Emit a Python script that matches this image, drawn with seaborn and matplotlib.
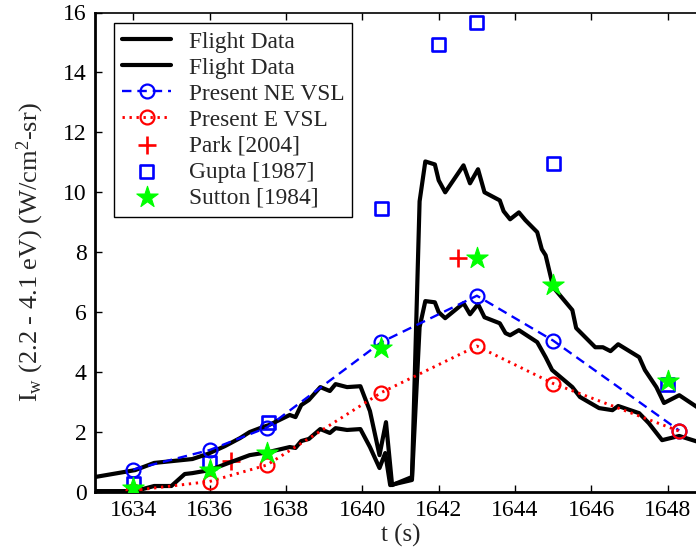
import matplotlib as mpl
mpl.use("Agg")
import matplotlib.pyplot as plt
import numpy as np
import seaborn as sns

# flight data, upper trace
t_fd1 = [1633.0, 1634.05, 1634.55, 1635.55, 1635.95, 1636.4, 1636.8, 1637.05, 1637.4,
         1637.55, 1638.1, 1638.25, 1638.4, 1638.6, 1638.9, 1639.15, 1639.3, 1639.6,
         1639.95, 1640.2, 1640.45, 1640.62, 1640.78, 1641.3, 1641.5, 1641.65, 1641.9,
         1642.0, 1642.17, 1642.65, 1642.82, 1643.03, 1643.2, 1643.6, 1643.7, 1643.87,
         1644.1, 1644.27, 1644.58, 1644.7, 1644.8, 1645.0, 1645.5, 1645.6, 1646.1,
         1646.3, 1646.5, 1646.7, 1647.25, 1647.4, 1647.7, 1647.9, 1648.3, 1648.77, 1649.0]
I_fd1 = [0.5, 0.73, 0.97, 1.1, 1.27, 1.53, 1.8, 2.0, 2.17,
         2.23, 2.57, 2.5, 2.9, 3.07, 3.5, 3.37, 3.6, 3.5,
         3.53, 2.7, 1.23, 2.33, 0.23, 0.5, 9.7, 11.03, 10.93,
         10.4, 10.0, 10.9, 10.3, 10.77, 10.0, 9.73, 9.37, 9.1,
         9.33, 9.07, 8.67, 8.1, 7.9, 6.83, 6.07, 5.47, 4.83,
         4.83, 4.7, 4.93, 4.5, 4.07, 3.5, 2.97, 3.23, 2.83, 2.7]

# flight data, lower trace
t_fd2 = [1633.0, 1634.05, 1634.55, 1635.0, 1635.35, 1635.55, 1636.0, 1636.5, 1637.05,
         1637.5, 1638.1, 1638.25, 1638.4, 1638.6, 1638.9, 1639.15, 1639.3, 1639.6,
         1639.95, 1640.2, 1640.45, 1640.6, 1640.73, 1641.3, 1641.5, 1641.65, 1641.9,
         1642.0, 1642.17, 1642.65, 1642.82, 1643.03, 1643.2, 1643.6, 1643.75, 1643.87,
         1644.1, 1644.58, 1644.8, 1644.97, 1645.5, 1645.7, 1646.2, 1646.55, 1646.7,
         1647.25, 1647.5, 1647.85, 1648.3, 1648.8, 1649.0]
I_fd2 = [0.03, 0.03, 0.2, 0.2, 0.6, 0.63, 0.73, 0.97, 1.23,
         1.32, 1.5, 1.47, 1.7, 1.77, 2.1, 1.97, 2.13, 2.07,
         2.1, 1.5, 0.8, 1.3, 0.23, 0.4, 5.5, 6.37, 6.33,
         6.0, 5.8, 6.3, 5.93, 6.27, 5.83, 5.63, 5.3, 5.23,
         5.4, 5.0, 4.5, 4.07, 3.5, 3.17, 2.8, 2.73, 2.87,
         2.63, 2.3, 1.73, 1.87, 1.67, 1.6]

# computations
t_vsl = [1634.0, 1636.0, 1637.5, 1640.5, 1643.0, 1645.0, 1648.3]
I_ne_vsl = [0.75, 1.4, 2.15, 5.0, 6.55, 5.05, 2.05]
I_e_vsl = [0.05, 0.35, 0.9, 3.32, 4.87, 3.62, 2.03]

t_park = [1636.55, 1642.5]
I_park = [1.02, 7.8]

t_gupta = [1634.0, 1636.0, 1637.55, 1640.5, 1642.0, 1643.0, 1645.0, 1648.0]
I_gupta = [0.28, 0.98, 2.32, 9.45, 14.92, 15.66, 10.95, 3.6]

t_sutton = [1634.0, 1636.0, 1637.5, 1640.5, 1643.0, 1645.0, 1648.0]
I_sutton = [0.15, 0.72, 1.3, 4.8, 7.8, 6.9, 3.72]

sns.set_theme(style="white")
plt.rcParams['font.family'] = ['Liberation Serif', 'DejaVu Serif']
plt.rcParams['mathtext.fontset'] = 'custom'
plt.rcParams['mathtext.rm'] = 'Liberation Serif'
plt.rcParams['mathtext.it'] = 'Liberation Serif:italic'

fig = plt.figure(figsize=(6.96, 5.56), dpi=100)
ax = fig.add_axes([95 / 696, 64 / 556, 611 / 696, 479.5 / 556])

sns.lineplot(x=t_fd1, y=I_fd1, ax=ax, color='black', lw=3.0, sort=False,
             estimator=None, label='Flight Data')
sns.lineplot(x=t_fd2, y=I_fd2, ax=ax, color='black', lw=3.0, sort=False,
             estimator=None, label='Flight Data')
sns.lineplot(x=t_vsl, y=I_ne_vsl, ax=ax, color='blue', lw=1.7, linestyle=(0, (4, 2.5)),
             marker='o', markersize=10, mfc='none', mec='blue', mew=1.6,
             label='Present NE VSL')
sns.lineplot(x=t_vsl, y=I_e_vsl, ax=ax, color='red', lw=2.1, linestyle=(0, (0.8, 1.6)),
             marker='o', markersize=10, mfc='none', mec='red', mew=1.6,
             label='Present E VSL')
sns.scatterplot(x=t_park, y=I_park, ax=ax, marker='+', s=150, color='red',
                linewidth=1.9, label='Park [2004]')
sns.scatterplot(x=t_gupta, y=I_gupta, ax=ax, marker='s', s=85, facecolor='none',
                edgecolor='blue', linewidth=1.9, label='Gupta [1987]')
sns.scatterplot(x=t_sutton, y=I_sutton, ax=ax, marker='*', s=260, color='#00ff00',
                edgecolor='#00ff00', linewidth=0.8, label='Sutton [1984]', zorder=4)

ax.set_xlim(1633, 1649)
ax.set_ylim(0, 16)
ax.set_xticks(np.arange(1634, 1649, 2))
ax.set_yticks(np.arange(0, 17, 2))
ax.tick_params(axis='both', direction='in', length=5, width=1, labelsize=17,
               top=True, right=True, bottom=True, left=True, pad=6, colors='black')
for sp in ax.spines.values():
    sp.set_color('black')
    sp.set_linewidth(1.2)
ax.spines['left'].set_linewidth(2)
ax.spines['bottom'].set_linewidth(2)

ax.set_xlabel('t (s)', fontsize=18, labelpad=2)
ax.set_ylabel(r'I$_\mathrm{w}$ (2.2 - 4.1 eV) (W/cm$^\mathrm{2}$-sr)', fontsize=19, labelpad=12)

leg = ax.legend(loc='upper left', bbox_to_anchor=(0.031, 0.978), borderaxespad=0,
                fontsize=16.8, frameon=True, fancybox=False, edgecolor='black',
                framealpha=1, labelspacing=0.2, handlelength=2.1, handletextpad=0.75,
                numpoints=1, scatterpoints=1, borderpad=0.35)
leg.get_frame().set_linewidth(1.0)

fig.savefig('out.png', dpi=100)
